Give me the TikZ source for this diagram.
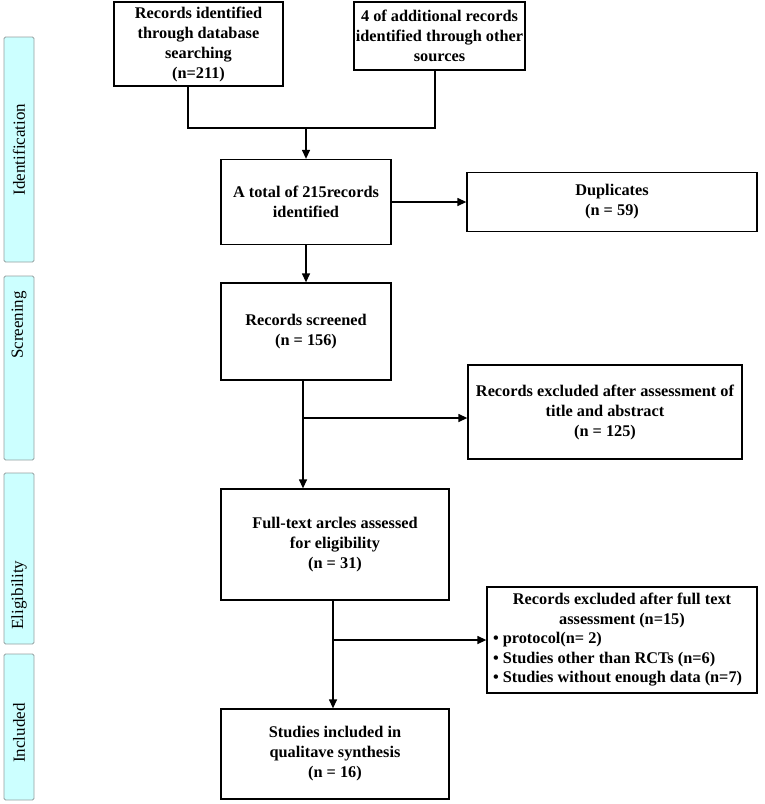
\documentclass[tikz,border=0pt]{standalone}
\usepackage{fontspec}
\setmainfont{Liberation Serif}
\usetikzlibrary{arrows.meta,calc}
\definecolor{barfill}{RGB}{204,255,255}
\definecolor{barline}{RGB}{150,160,160}
\begin{document}
\begin{tikzpicture}[x=1pt,y=-1pt,
  box/.style={draw=black,line width=1.3pt,fill=white,inner sep=2pt,align=center,
    font=\fontsize{16.3}{20}\selectfont\bfseries},
  bar/.style={draw=barline,line width=0.8pt,fill=barfill,rounded corners=1.5pt},
  barlabel/.style={rotate=90,font=\fontsize{17}{19}\selectfont},
  conn/.style={line width=1.3pt},
  arr/.style={line width=1.3pt,-{Triangle[length=9pt,width=8pt]}}]
\useasboundingbox (0,0) rectangle (765,804);
% side bars
\draw[bar] (4,37) rectangle (34,262);
\node[barlabel] (lid) at (19,149.5) {Identification};
\draw[bar] (4,276) rectangle (34,460);
\node[barlabel] (lsc) at (19,325) {Screening};
\draw[bar] (4,473) rectangle (34,644);
\node[barlabel] (lel) at (19,595) {Eligibility};
\draw[bar] (4,654) rectangle (34,800);
\node[barlabel] (lin) at (19,733) {Included};
% boxes
\node[box,minimum width=169pt,minimum height=84pt] (b1) at (198.5,44) {Records identified\\through database\\searching\\(n=211)};
\node[box,minimum width=163pt,minimum height=68pt] (b2) at (439.5,36) {4 of additional records\\identified through other\\sources};
\node[box,minimum width=170pt,minimum height=85pt] (b3) at (306,202) {A total of 215records\\identified};
\node[box,minimum width=290pt,minimum height=59pt] (dup) at (612,202) {Duplicates\\(n = 59)};
\node[box,minimum width=170pt,minimum height=97pt] (b4) at (306,331.5) {Records screened\\(n = 156)};
\node[box,minimum width=274pt,minimum height=94pt] (ex1) at (605,412) {Records excluded after assessment of\\title and abstract\\(n = 125)};
\node[box,minimum width=228pt,minimum height=111pt] (b5) at (335,544.5) {Full-text arcles assessed\\for eligibility\\(n = 31)};
\node[box,minimum width=270pt,minimum height=106pt,align=left,
  font=\fontsize{16.3}{19.5}\selectfont\bfseries] (ex2) at (622,640) {\makebox[258pt][c]{Records excluded after full text}\\\makebox[258pt][c]{assessment (n=15)}\\• protocol(n= 2)\\• Studies other than RCTs (n=6)\\• Studies without enough data (n=7)};
\node[box,minimum width=228pt,minimum height=90pt] (b6) at (335,754) {Studies included in\\qualitave synthesis\\(n = 16)};
% connectors
\coordinate (j1) at (188,128);
\coordinate (j2) at (435,128);
\coordinate (jm) at (306,128);
\draw[conn] (j1 |- b1.south) -- (j1) -- (j2) -- (j2 |- b2.south);
\draw[arr] (jm) -- (b3.north);
\draw[arr] (b3.east) -- (dup.west);
\draw[arr] (b3.south) -- (b4.north);
\coordinate (s1) at (303,418);
\coordinate (s1top) at (s1 |- b4.south);
\coordinate (s1bot) at (s1 |- b5.north);
\draw[arr] (s1top) -- (s1bot);
\draw[arr] (s1) -- (s1 -| ex1.west);
\coordinate (s2) at (333,640);
\coordinate (s2top) at (s2 |- b5.south);
\coordinate (s2bot) at (s2 |- b6.north);
\draw[arr] (s2top) -- (s2bot);
\draw[arr] (s2) -- (s2 -| ex2.west);
\end{tikzpicture}
\end{document}
